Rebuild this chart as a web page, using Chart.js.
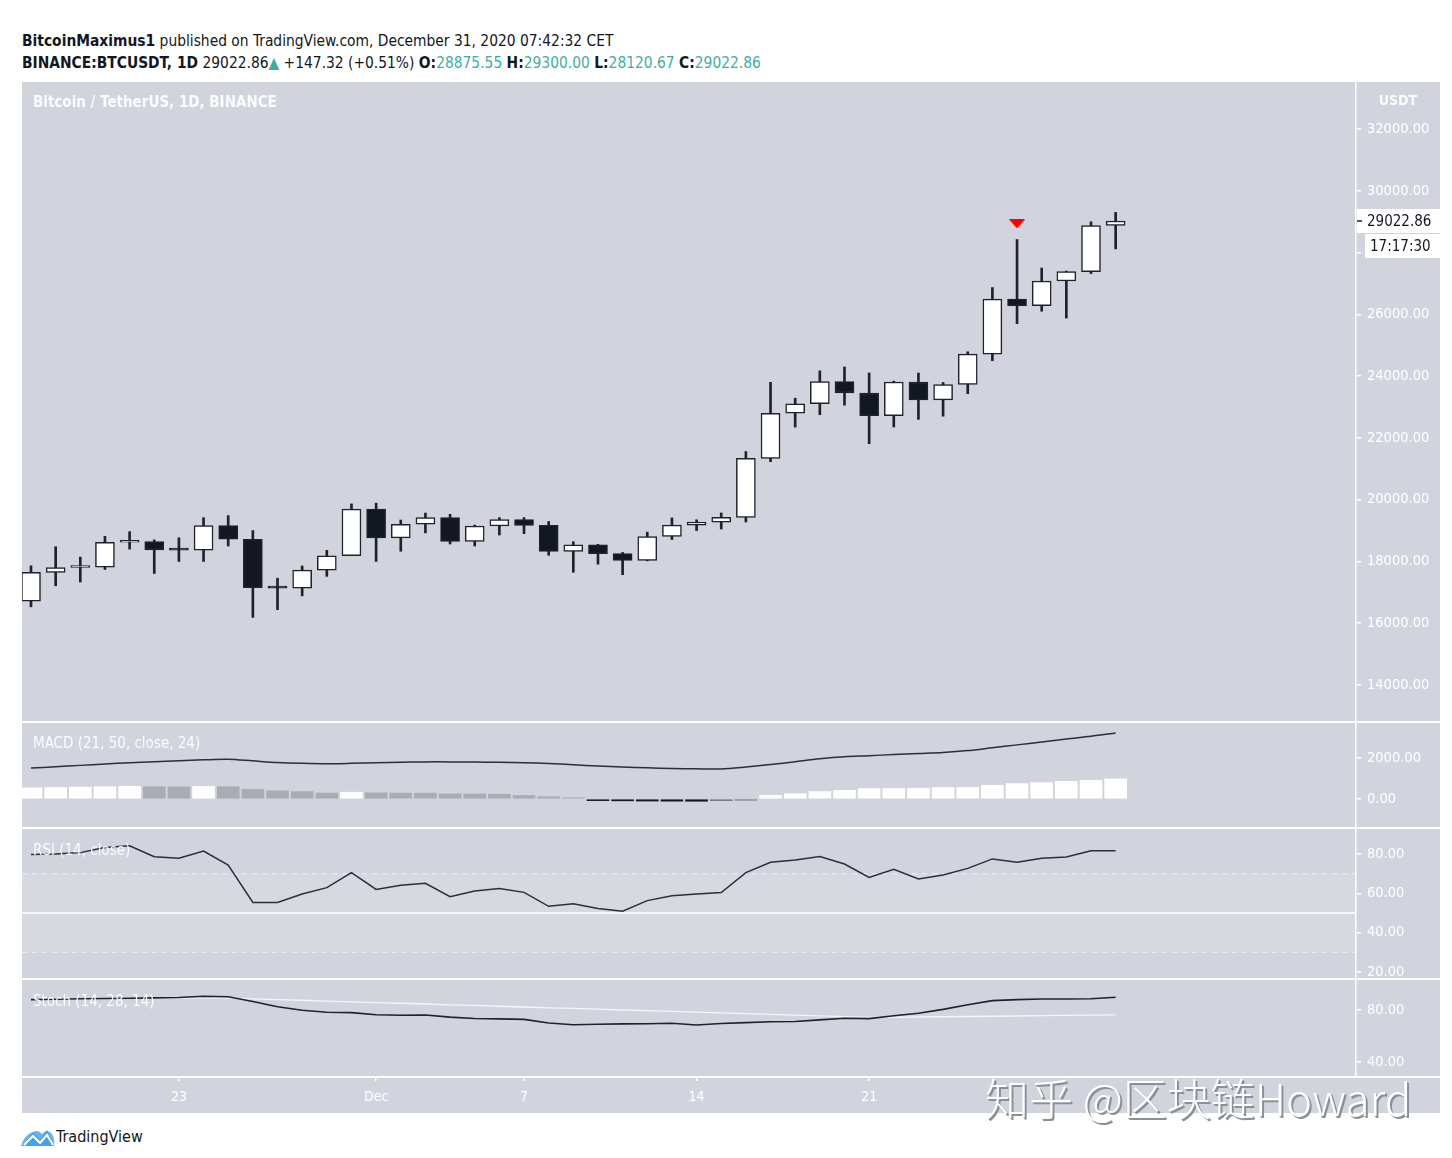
<!DOCTYPE html>
<html><head><meta charset="utf-8">
<script src="https://cdn.jsdelivr.net/npm/chart.js@4.4.1/dist/chart.umd.min.js"></script>
<style>
html,body{margin:0;padding:0;background:#fff;}
body{width:1452px;height:1158px;position:relative;overflow:hidden;font-family:"Liberation Sans Narrow","DejaVu Sans Condensed","Open Sans",sans-serif;color:#131722;}
.abs{position:absolute;}
#bg{left:22px;top:82px;width:1418px;height:1031px;background:#d1d4dc;}
.sep{left:22px;width:1418px;height:2px;background:#fff;}
canvas{position:absolute;left:22px;}
.hdr{left:22px;font-size:15.4px;white-space:nowrap;line-height:20px;}
.b{font-weight:bold;}
.t{color:#3fae9f;}
.title{left:33px;color:rgba(255,255,255,0.92);font-size:15px;white-space:nowrap;line-height:18px;}
#wm{left:985px;top:1072px;font-family:"Noto Sans CJK SC",sans-serif;font-size:44px;line-height:50px;color:#fff;white-space:nowrap;text-shadow:2px 2px 0 #8c8f95,1px 1px 0 #9a9da3;font-weight:300;}
#tv{left:56px;top:1127px;font-size:16px;color:#131722;}
</style></head>
<body>
<div class="abs hdr" style="top:31px"><span class="b">BitcoinMaximus1</span> published on TradingView.com, December 31, 2020 07:42:32 CET</div>
<div class="abs hdr" style="top:53px"><span class="b">BINANCE:BTCUSDT, 1D</span> 29022.86<span class="t">▲</span> +147.32 (+0.51%) <span class="b">O:</span><span class="t">28875.55</span> <span class="b">H:</span><span class="t">29300.00</span> <span class="b">L:</span><span class="t">28120.67</span> <span class="b">C:</span><span class="t">29022.86</span></div>
<div id="bg" class="abs"></div>
<canvas id="cMain" width="1418" height="639" style="top:82px"></canvas>
<div class="abs sep" style="top:721px"></div>
<canvas id="cMacd" width="1418" height="104" style="top:723px"></canvas>
<div class="abs sep" style="top:827px"></div>
<canvas id="cRsi" width="1418" height="149" style="top:829px"></canvas>
<div class="abs sep" style="top:978px"></div>
<canvas id="cStoch" width="1418" height="133" style="top:980px"></canvas>
<div class="abs sep" style="top:1076px"></div>
<div class="abs title" style="top:93px;font-weight:bold;">Bitcoin / TetherUS, 1D, BINANCE</div>
<div class="abs title" style="top:91px;left:1356px;width:84px;text-align:center;font-size:14px;font-weight:bold;">USDT</div>
<div class="abs title" style="top:734px">MACD (21, 50, close, 24)</div>
<div class="abs title" style="top:841px">RSI (14, close)</div>
<div class="abs title" style="top:992px">Stoch (14, 28, 14)</div>
<svg class="abs" style="left:21px;top:1126px" width="34" height="22" viewBox="0 0 34 22">
<path d="M2 20 L12 6 L19 14 L26 4 L33 20 Z" fill="#2f8fe6"/>
<path d="M0 20 Q3 9 12 6 Q17 3 21 8 Q26 2 31 8 Q34 13 33 20 Z" fill="#4aa3ef" opacity="0.85"/>
<path d="M3 19 L12 10 L19 17 L26 9 L32 19" stroke="#fff" stroke-width="2" fill="none"/>
</svg>
<div id="tv" class="abs">TradingView</div>
<div id="wm" class="abs">知乎 @区块链Howard</div>
<script>
// ---------- DATA ----------
const dates = ['2020-11-17','2020-11-18','2020-11-19','2020-11-20','2020-11-21','2020-11-22','2020-11-23','2020-11-24','2020-11-25','2020-11-26','2020-11-27','2020-11-28','2020-11-29','2020-11-30','2020-12-01','2020-12-02','2020-12-03','2020-12-04','2020-12-05','2020-12-06','2020-12-07','2020-12-08','2020-12-09','2020-12-10','2020-12-11','2020-12-12','2020-12-13','2020-12-14','2020-12-15','2020-12-16','2020-12-17','2020-12-18','2020-12-19','2020-12-20','2020-12-21','2020-12-22','2020-12-23','2020-12-24','2020-12-25','2020-12-26','2020-12-27','2020-12-28','2020-12-29','2020-12-30','2020-12-31'];
const opens  = [16716,17645,17804,17817,18621,18642,18370,18365,19160,18719,17150,17139,17719,18185,19696,18764,19204,19422,18650,19148,19358,19166,18324,18541,18254,18036,18808,19175,19273,19426,21335,22797,23107,23821,23455,22719,23810,23232,23729,24712,26493,26281,27079,27385,28875.55];
const highs  = [17858,18476,18143,18815,18965,18698,18766,19418,19484,19000,17457,17854,18360,19863,19888,19342,19566,19527,19177,19420,19420,19294,18639,18557,18292,18948,19411,19349,19570,21560,23800,23285,24171,24295,24102,23837,24100,23794,24789,26867,28422,27500,27400,28996,29300];
const lows   = [16531,17214,17335,17740,18400,17610,18000,18000,18500,16188,16438,16886,17517,18185,18001,18330,18925,18565,18500,18857,18902,18200,17650,17911,17572,18020,18711,19000,19050,19278,21230,22350,22750,23060,21815,22353,22600,22703,23433,24500,25700,26101,25880,27320,28120.67];
const closes = [17645,17804,17817,18621,18642,18370,18365,19160,18719,17150,17139,17719,18185,19696,18764,19204,19421,18650,19147,19358,19166,18324,18541,18254,18036,18808,19175,19273,19426,21335,22797,23107,23821,23455,22719,23810,23232,23729,24712,26493,26281,27079,27385,28875.55,29022.86];
const macdLine = [1510,1570,1640,1710,1770,1820,1860,1910,1940,1860,1780,1740,1720,1740,1770,1790,1810,1810,1800,1790,1770,1730,1670,1610,1560,1520,1490,1470,1465,1560,1680,1820,1960,2060,2110,2170,2220,2270,2360,2500,2640,2780,2930,3060,3220];
const macdHist = [540,560,580,600,620,600,590,610,600,470,400,360,290,330,300,290,285,250,245,230,170,110,60,-80,-90,-100,-105,-110,-80,-60,180,260,360,420,505,510,515,555,560,670,750,800,860,910,980];
const rsi = [79.8,80,80.7,83.3,84.2,78.6,77.8,81.5,74.4,55.4,55.4,59.7,62.9,70.5,62,64.1,65.1,58.3,61.2,62.4,60.5,53.4,54.7,52.3,50.9,56.3,58.8,59.7,60.4,70.5,75.8,77,78.7,74.9,68.1,72.2,67.3,69.3,72.7,77.5,75.8,77.8,78.5,81.7,81.7];
const stochK = [88,88.3,88.6,88.9,89,89.3,89.6,90.6,90.2,86.5,82.5,79.8,78.3,78,76.4,76,76.1,74.5,73.5,73.2,72.8,70,68.6,69,69.3,69.4,69.8,68.5,69.6,70.3,71,71.2,72.4,73.6,73.4,75.6,77.5,80.5,84,87.2,88,88.5,88.5,88.7,89.8];
const stochD = [88.4,88.6,88.7,88.9,89,89.1,89.2,89.3,89.2,88.6,88,87.5,86.9,86.3,85.7,85.2,84.6,84,83.5,82.9,82.3,81.7,81.2,80.6,80,79.5,78.9,78.3,77.8,77.2,76.6,76.1,75.5,74.9,74.3,74.4,74.6,74.8,75,75.2,75.4,75.6,75.8,76,76.2];
const priceTicks = [14000,16000,18000,20000,22000,24000,26000,28000,30000,32000];
const macdTicks = [0,2000];
const rsiTicks = [20,40,60,80];
const stochTicks = [40,80];
const rsiLevels = {upper:70, middle:50, lower:30};
const xTickDates = ['2020-11-23','2020-12-01','2020-12-07','2020-12-14','2020-12-21'];
const xTickLabels = ['23','Dec','7','14','21'];
const signalMarks = [{date:'2020-12-27', price:28925}];
const countdown = '17:17:30';

// ---------- LAYOUT ----------
const FONT = '"Liberation Sans Narrow","DejaVu Sans Condensed","Open Sans",sans-serif';
const AXIS_W = 84;
const X_MIN = -0.365, X_MAX = 53.75;
const idx = dates.map((d,i)=>i);
const DARK = '#1e222d';

function yAxis(min,max,ticks){
  return {
    position:'right', min, max,
    afterFit(s){ s.width = AXIS_W; s.paddingTop = 0; s.paddingBottom = 0; },
    afterBuildTicks(s){ s.ticks = ticks.map(v=>({value:v})); },
    grid:{drawOnChartArea:false, drawTicks:true, tickLength:5, color:'#fff', lineWidth:1.5},
    border:{display:true, color:'#fff', width:1.5},
    ticks:{color:'#fff', font:{family:FONT, size:14.5}, padding:6, callback:v=>Number(v).toFixed(2)}
  };
}
function xHidden(){ return {type:'linear', min:X_MIN, max:X_MAX, offset:false, display:false}; }
const base = {
  responsive:false, animation:false, events:[],
  layout:{padding:0, autoPadding:false},
  plugins:{legend:{display:false}, tooltip:{enabled:false}}
};

// triangle image for signal marker
const tri = document.createElement('canvas'); tri.width=16; tri.height=9;
(()=>{const c=tri.getContext('2d'); c.fillStyle='#f00'; c.beginPath(); c.moveTo(0,0); c.lineTo(16,0); c.lineTo(8,9); c.closePath(); c.fill();})();

const lastPriceLabel = {
  id:'lastPriceLabel',
  afterDraw(chart){
    const {ctx, scales:{y}, chartArea} = chart;
    const last = closes[closes.length-1];
    const py = Math.round(y.getPixelForValue(last));
    const x0 = chartArea.right;
    ctx.save();
    ctx.fillStyle='#fff';
    ctx.fillRect(x0+1, py-12, chart.width-x0-1, 24);
    ctx.fillRect(x0+9, py+13, chart.width-x0-9, 24);
    ctx.strokeStyle=DARK; ctx.lineWidth=1.5;
    ctx.beginPath(); ctx.moveTo(x0+1,py); ctx.lineTo(x0+6,py); ctx.stroke();
    ctx.fillStyle='#131722'; ctx.font='15px '+FONT; ctx.textBaseline='middle';
    ctx.fillText(last.toFixed(2), x0+11, py+1);
    ctx.fillText(countdown, x0+14, py+26);
    ctx.restore();
  }
};

// ---------- MAIN ----------
new Chart(document.getElementById('cMain'), {
  type:'bar',
  data:{datasets:[
    {label:'body', order:0, grouped:false, barThickness:19, minBarLength:2,
      data: idx.map(i=>({x:i, y:[opens[i], closes[i]]})),
      backgroundColor: idx.map(i=> closes[i]>=opens[i] ? '#ffffff' : '#131722'),
      borderColor: DARK, borderWidth:1.5, borderSkipped:false},
    {label:'wick', order:1, grouped:false, barThickness:2,
      data: idx.map(i=>({x:i, y:[lows[i], highs[i]]})),
      backgroundColor: DARK, borderWidth:0},
    {type:'line', label:'signal', order:-1, showLine:false,
      data: signalMarks.map(m=>({x:dates.indexOf(m.date), y:m.price})),
      pointStyle: tri, pointRadius:8}
  ]},
  options:{...base, scales:{x:xHidden(), y:yAxis(12835,33522,priceTicks)}},
  plugins:[lastPriceLabel]
});

// ---------- MACD ----------
const histColors = macdHist.map((v,i)=>{
  const prev = i>0 ? macdHist[i-1] : -Infinity;
  if (v>=0) return v>=prev ? '#ffffff' : '#a9acb3';
  return v<prev ? '#131722' : '#74777f';
});
new Chart(document.getElementById('cMacd'), {
  type:'bar',
  data:{datasets:[
    {type:'line', order:0, data: idx.map(i=>({x:i,y:macdLine[i]})), borderColor:'#2a2e39', borderWidth:1.5, pointRadius:0, tension:0.3},
    {order:1, data: idx.map(i=>({x:i,y:macdHist[i]})), backgroundColor: histColors, barThickness:22, borderWidth:0}
  ]},
  options:{...base, scales:{x:xHidden(), y:yAxis(-1366,3707,macdTicks)}}
});

// ---------- RSI ----------
const hline = (v)=>[{x:X_MIN,y:v},{x:X_MAX,y:v}];
new Chart(document.getElementById('cRsi'), {
  type:'line',
  data:{datasets:[
    {order:0, data: idx.map(i=>({x:i,y:rsi[i]})), borderColor:'#2a2e39', borderWidth:1.5, pointRadius:0},
    {order:1, data: hline(rsiLevels.middle), borderColor:'#ffffff', borderWidth:1.5, pointRadius:0},
    {order:2, data: hline(rsiLevels.upper), borderColor:'rgba(255,255,255,0.6)', borderWidth:1, borderDash:[5,5], pointRadius:0,
      fill:{target:{value:rsiLevels.lower}}, backgroundColor:'rgba(255,255,255,0.13)'},
    {order:3, data: hline(rsiLevels.lower), borderColor:'rgba(255,255,255,0.6)', borderWidth:1, borderDash:[5,5], pointRadius:0}
  ]},
  options:{...base, scales:{x:xHidden(), y:yAxis(16.95,92.71,rsiTicks)}}
});

// ---------- STOCH + X AXIS ----------
const xTickIdx = xTickDates.map(d=>dates.indexOf(d));
new Chart(document.getElementById('cStoch'), {
  type:'line',
  data:{datasets:[
    {order:0, data: idx.map(i=>({x:i,y:stochK[i]})), borderColor:'#1e222d', borderWidth:1.6, pointRadius:0},
    {order:1, data: idx.map(i=>({x:i,y:stochD[i]})), borderColor:'#f4f5f7', borderWidth:1.3, pointRadius:0}
  ]},
  options:{...base, scales:{
    x:{type:'linear', min:X_MIN, max:X_MAX, position:'bottom', offset:false,
      afterFit(s){ s.height = 36; s.paddingLeft = 0; s.paddingRight = 0; },
      afterBuildTicks(s){ s.ticks = xTickIdx.map(v=>({value:v})); },
      grid:{drawOnChartArea:false, drawTicks:true, tickLength:4, color:'#fff', lineWidth:1.5},
      border:{display:false},
      ticks:{color:'#fff', font:{family:FONT, size:14}, padding:8, maxRotation:0, autoSkip:false,
        callback:(v)=>{ const k=xTickIdx.indexOf(v); return k>=0 ? xTickLabels[k] : ''; }}
    },
    y:yAxis(28.46,103.08,stochTicks)
  }}
});
</script>
</body></html>
